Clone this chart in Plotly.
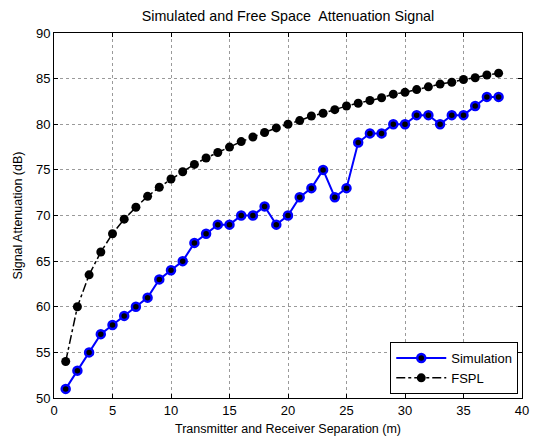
import plotly.graph_objects as go

distance = list(range(1, 39))
simulation = [51, 53, 55, 57, 58, 59, 60, 61, 63, 64, 65, 67, 68, 69, 69, 70, 70, 71, 69, 70,
              72, 73, 75, 72, 73, 78, 79, 79, 80, 80, 81, 81, 80, 81, 81, 82, 83, 83]
fspl = [54.0, 60.0, 63.5, 66.0, 68.0, 69.6, 70.9, 72.1, 73.1, 74.0, 74.8, 75.6, 76.3, 76.9,
        77.5, 78.1, 78.6, 79.1, 79.6, 80.0, 80.4, 80.9, 81.2, 81.6, 82.0, 82.3, 82.6, 82.9,
        83.3, 83.5, 83.8, 84.1, 84.4, 84.6, 84.9, 85.1, 85.4, 85.6]
x_ticks = [0, 5, 10, 15, 20, 25, 30, 35, 40]
y_ticks = [50, 55, 60, 65, 70, 75, 80, 85, 90]

font = "Liberation Sans, Arial, sans-serif"

# page body has an 8px default margin, so the figure is sized to fit the window
W, H = 530, 429

fig = go.Figure()
fig.add_trace(go.Scatter(
    x=distance, y=simulation, name="Simulation", mode="lines+markers",
    line=dict(color="#0000ff", width=2),
    marker=dict(symbol="circle", size=8, color="black", line=dict(color="#0000ff", width=2.5)),
))
fig.add_trace(go.Scatter(
    x=distance, y=fspl, name="FSPL", mode="lines+markers",
    line=dict(color="black", width=1.5, dash="dashdot"),
    marker=dict(symbol="circle", size=9, color="black"),
))

axis_common = dict(
    showgrid=True, gridcolor="#9a9a9a", griddash="dot", gridwidth=1,
    showline=True, linecolor="black", linewidth=1, mirror="ticks",
    ticks="inside", ticklen=4, tickcolor="black",
    zeroline=False,
    tickfont=dict(family=font, size=13, color="black"),
)

fig.update_layout(
    width=W, height=H,
    paper_bgcolor="white", plot_bgcolor="white",
    margin=dict(l=46, r=9, t=25, b=39),
    title=dict(text="Simulated and Free Space&nbsp; Attenuation Signal", x=0.5, xanchor="center",
               xref="paper", y=1 - 8 / H, yanchor="middle", automargin=False,
               font=dict(family=font, size=14.3, color="black")),
    xaxis=dict(range=[0, 40], tickvals=x_ticks, automargin="left+right",
               title=dict(text="Transmitter and Receiver Separation (m)", standoff=7,
                          font=dict(family=font, size=12.5, color="black")),
               **axis_common),
    yaxis=dict(range=[50, 90], tickvals=y_ticks, automargin=False,
               title=dict(text="Signal Attenuation (dB)", standoff=10,
                          font=dict(family=font, size=12.5, color="black")),
               **axis_common),
    legend=dict(x=0.992, y=0.011, xanchor="right", yanchor="bottom",
                bgcolor="white", bordercolor="black", borderwidth=1,
                font=dict(family=font, size=13, color="black"),
                itemwidth=50, tracegroupgap=0),
    showlegend=True,
)

fig.write_html("out.html")
